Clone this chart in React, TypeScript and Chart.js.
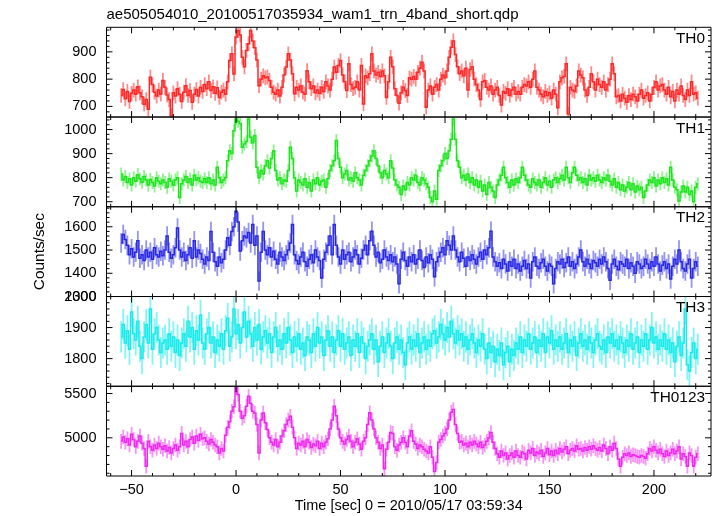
import React, { useEffect, useRef } from 'react';
import { Chart, registerables } from 'chart.js';

Chart.register(...registerables);

// ---- data (1-s bins starting at T_START seconds) ----
const T_START = -55;
const PANEL_NAMES = ['TH0', 'TH1', 'TH2', 'TH3', 'TH0123'];

const TH0 = [
  740, 762, 728, 755, 718, 748, 760, 745, 772, 750,
  735, 708, 725, 690, 807, 780, 752, 738, 760, 745,
  795, 770, 742, 725, 666, 750, 738, 765, 745, 718,
  752, 776, 740, 758, 715, 745, 762, 738, 770, 755,
  780, 765, 790, 758, 772, 748, 768, 733, 752, 760,
  745, 790, 868, 893, 819, 954, 978, 962, 880, 845,
  905, 930, 978, 940, 915, 870, 776, 800, 812, 805,
  808, 795, 770, 752, 745, 760, 738, 770, 815, 844,
  893, 870, 820, 746, 770, 760, 775, 752, 745, 831,
  790, 765, 775, 750, 760, 748, 770, 755, 790, 775,
  760, 800, 844, 825, 850, 868, 815, 790, 758, 856,
  780, 765, 770, 790, 760, 850, 709, 812, 805, 820,
  893, 830, 815, 825, 810, 830, 812, 733, 790, 880,
  845, 765, 740, 712, 750, 770, 758, 740, 805, 800,
  810, 800, 825, 840, 862, 830, 697, 760, 775, 745,
  770, 780, 760, 800, 815, 805, 830, 880, 917, 940,
  890, 845, 820, 830, 812, 840, 760, 835, 845, 800,
  780, 760, 725, 790, 795, 770, 760, 775, 745, 760,
  770, 740, 705, 755, 748, 765, 740, 760, 770, 745,
  755, 745, 770, 780, 775, 790, 770, 800, 830, 770,
  760, 745, 735, 755, 740, 750, 730, 760, 745, 695,
  790, 805, 810, 856, 672, 770, 760, 755, 775, 830,
  815, 805, 760, 740, 770, 820, 790, 760, 800, 780,
  770, 790, 760, 780, 800, 856, 820, 735, 740, 720,
  745, 730, 715, 740, 725, 745, 735, 720, 745, 760,
  730, 740, 750, 720, 745, 770, 790, 760, 775, 780,
  760, 745, 770, 735, 755, 720, 760, 745, 775, 740,
  725, 760, 740, 790, 745, 750, 730,
];

const TH1 = [
  815, 790, 805, 780, 795, 770, 800, 785, 812, 795,
  780, 805, 790, 770, 792, 780, 765, 800, 785, 775,
  790, 780, 760, 795, 785, 770, 790, 800, 718, 775,
  790, 805, 780, 795, 770, 810, 790, 800, 785, 780,
  795, 780, 800, 775, 790, 770, 843, 800, 780, 790,
  800, 870, 912, 900, 995, 1044, 1035, 1025, 926, 940,
  950, 1044, 968, 945, 975, 843, 800, 830, 815, 850,
  870, 840, 880, 912, 830, 790, 800, 775, 790, 785,
  830, 926, 880, 800, 745, 790, 780, 770, 795, 760,
  780, 745, 790, 775, 800, 770, 785, 790, 760, 795,
  830, 850, 870, 954, 880, 843, 800, 815, 830, 790,
  800, 785, 820, 800, 790, 770, 810, 830, 850, 870,
  890, 912, 880, 850, 820, 800, 830, 815, 800, 870,
  840, 790, 770, 760, 730, 765, 750, 780, 770, 800,
  790, 810, 780, 770, 800, 790, 775, 760, 718, 700,
  745, 710, 830, 850, 870, 900, 880, 912, 960, 1044,
  960, 870, 843, 800, 810, 790, 815, 780, 800, 770,
  790, 760, 785, 745, 770, 730, 780, 760, 745, 718,
  770, 790, 810, 843, 800, 780, 760, 790, 770, 795,
  780, 800, 843, 810, 790, 770, 760, 795, 780, 770,
  790, 760, 780, 800, 770, 785, 760, 790, 800, 780,
  795, 810, 790, 843, 800, 780, 820, 843, 810, 790,
  800, 780, 795, 770, 810, 790, 800, 785, 810, 790,
  780, 800, 790, 810, 785, 770, 795, 760, 780, 750,
  770, 745, 760, 780, 750, 775, 740, 765, 750, 760,
  718, 745, 770, 790, 780, 800, 765, 790, 775, 800,
  780, 795, 770, 843, 790, 760, 750, 703, 740, 765,
  740, 760, 730, 745, 700, 760, 775,
];

const TH2 = [
  1530, 1567, 1545, 1520, 1480, 1505, 1470, 1490, 1540, 1465,
  1480, 1455, 1500, 1470, 1490, 1460, 1510, 1480, 1470, 1495,
  1475, 1500, 1560, 1490, 1465, 1480, 1510, 1595, 1500, 1470,
  1490, 1455, 1480, 1510, 1465, 1540, 1470, 1500, 1485, 1460,
  1440, 1470, 1455, 1580, 1490, 1450, 1430, 1470, 1445, 1460,
  1500, 1553, 1520, 1580, 1600, 1667, 1620, 1496, 1540, 1560,
  1553, 1575, 1530, 1610, 1520, 1560, 1367, 1490, 1580, 1500,
  1480, 1510, 1470, 1495, 1460, 1440, 1490, 1470, 1455, 1480,
  1500, 1530, 1610, 1480, 1455, 1440, 1470, 1490, 1450, 1430,
  1460, 1480, 1445, 1500, 1470, 1455, 1380, 1460, 1490, 1520,
  1560, 1480, 1610, 1520, 1470, 1440, 1500, 1460, 1480, 1490,
  1450, 1470, 1500, 1480, 1440, 1465, 1500, 1520, 1480, 1540,
  1581, 1520, 1470, 1490, 1445, 1460, 1500, 1470, 1455, 1480,
  1450, 1470, 1440, 1355, 1460, 1490, 1455, 1430, 1470, 1450,
  1480, 1440, 1460, 1500, 1455, 1425, 1470, 1445, 1480, 1460,
  1385, 1450, 1470, 1490, 1510, 1480, 1540, 1520, 1500, 1560,
  1500, 1470, 1450, 1490, 1465, 1430, 1470, 1455, 1480, 1460,
  1440, 1470, 1490, 1460, 1500, 1480, 1510, 1581, 1470, 1450,
  1430, 1445, 1420, 1460, 1440, 1410, 1450, 1430, 1460, 1420,
  1440, 1410, 1430, 1455, 1420, 1440, 1380, 1450, 1470, 1430,
  1420, 1445, 1460, 1430, 1410, 1440, 1430, 1355, 1420, 1450,
  1440, 1460, 1425, 1445, 1470, 1430, 1450, 1420, 1440, 1470,
  1500, 1450, 1430, 1460, 1440, 1420, 1455, 1445, 1430, 1460,
  1440, 1470, 1450, 1420, 1370, 1440, 1460, 1430, 1415, 1450,
  1440, 1430, 1460, 1420, 1445, 1430, 1400, 1450, 1440, 1420,
  1430, 1460, 1440, 1420, 1450, 1430, 1470, 1440, 1410, 1435,
  1450, 1420, 1440, 1375, 1430, 1460, 1440, 1500, 1450, 1420,
  1410, 1440, 1460, 1380, 1420, 1450, 1430,
];

const TH3 = [
  1870, 1910, 1850, 1890, 1830, 1950, 1880, 1860, 1920, 1840,
  1800, 1870, 1910, 1850, 1960, 1830, 1880, 1900, 1860, 1820,
  1850, 1860, 1830, 1880, 1840, 1870, 1820, 1860, 1810, 1850,
  1880, 1840, 1920, 1870, 1900, 1830, 1890, 1860, 1940, 1850,
  1830, 1880, 1900, 1850, 1870, 1820, 1860, 1840, 1880, 1830,
  1890, 1930, 1840, 1870, 1960, 1880, 1910, 1850, 1900, 1950,
  1870, 1920, 1880, 1840, 1900, 1860, 1910, 1830, 1870, 1890,
  1850, 1880, 1820, 1870, 1900, 1840, 1860, 1830, 1880, 1850,
  1900, 1860, 1820, 1870, 1840, 1880, 1830, 1850, 1810, 1870,
  1860, 1820, 1880, 1840, 1900, 1850, 1870, 1810, 1860, 1890,
  1840, 1870, 1820, 1860, 1890, 1840, 1880, 1830, 1850, 1870,
  1810, 1860, 1840, 1880, 1820, 1870, 1850, 1800, 1840, 1860,
  1880, 1830, 1860, 1790, 1840, 1870, 1820, 1850, 1880, 1840,
  1800, 1850, 1870, 1830, 1860, 1820, 1780, 1850, 1870, 1830,
  1860, 1840, 1880, 1820, 1850, 1870, 1830, 1860, 1840, 1880,
  1890, 1850, 1870, 1910, 1880, 1860, 1900, 1870, 1920, 1880,
  1850, 1890, 1860, 1880, 1840, 1870, 1830, 1860, 1880, 1850,
  1820, 1860, 1840, 1880, 1830, 1800, 1850, 1820, 1840, 1790,
  1830, 1810, 1850, 1780, 1820, 1840, 1790, 1830, 1810, 1850,
  1830, 1870, 1820, 1860, 1840, 1880, 1830, 1850, 1870, 1820,
  1860, 1840, 1880, 1820, 1870, 1850, 1890, 1830, 1860, 1840,
  1870, 1830, 1850, 1880, 1820, 1860, 1840, 1870, 1810, 1850,
  1880, 1840, 1860, 1830, 1870, 1850, 1820, 1860, 1880, 1840,
  1830, 1860, 1820, 1870, 1850, 1880, 1840, 1860, 1830, 1870,
  1850, 1820, 1860, 1840, 1880, 1830, 1850, 1870, 1820, 1860,
  1840, 1880, 1830, 1860, 1900, 1850, 1870, 1830, 1860, 1840,
  1880, 1830, 1860, 1820, 1850, 1790, 1840, 1870, 1810, 1850,
  1960, 1780, 1760, 1820, 1850, 1800, 1830,
];

const TH0123 = [
  4960, 5010, 4950, 4990, 4920, 5040, 4980, 4900, 4960, 5020,
  4940, 4880, 4680, 4960, 4900, 4860, 4920, 4880, 4940, 4900,
  4870, 4910, 4850, 4890, 4830, 4880, 4920, 4860, 4900, 5050,
  4920, 4960, 4900, 4980, 5010, 4940, 5020, 4970, 5040, 4990,
  5000, 4960, 4930, 4980, 4950, 4920, 4900, 4830, 4880, 4850,
  5030, 5120, 5180, 5300, 5350, 5564, 5490, 5300, 5220, 5250,
  5357, 5470, 5390, 5300, 5280, 5150, 4830, 5200, 5280, 5170,
  5094, 5000, 4950, 4920, 4980, 4900, 4950, 5020, 5080, 5150,
  5200, 5244, 5120, 5000, 4880, 4940, 4920, 4960, 4900, 4980,
  4950, 4890, 4930, 4910, 4960, 4880, 4940, 4900, 4950, 4990,
  5100, 5200, 5357, 5250, 5100, 5000, 4960, 4930, 4980, 5020,
  4960, 4900, 4950, 4990, 4930, 4870, 4960, 5000, 5150, 5282,
  5200, 5100, 5000, 4950, 4880, 4920, 4650, 4870, 4950, 5060,
  5050, 4900, 4860, 4920, 4950, 5000, 4950, 4900, 5020, 5080,
  4960, 4930, 4880, 4920, 4900, 4870, 4850, 4830, 4900, 4780,
  4620, 4720, 4950, 4980, 5020, 5050, 5100, 5200, 5290, 5320,
  5150, 5050, 4950, 4960, 4920, 4940, 4900, 4950, 4920, 4960,
  4930, 4900, 4950, 4890, 4920, 4960, 5000, 5060, 4950, 4880,
  4820, 4780, 4850, 4800, 4830, 4760, 4800, 4830, 4780, 4850,
  4800, 4780, 4840, 4820, 4760, 4860, 4830, 4880, 4800, 4840,
  4820, 4860, 4790, 4830, 4880, 4810, 4850, 4800, 4860, 4820,
  4880, 4840, 4870, 4900, 4820, 4860, 4880, 4850, 4910, 4870,
  4880, 4850, 4890, 4860, 4900, 4870, 4910, 4880, 4860, 4890,
  4850, 4920, 4880, 4820, 4900, 4860, 4940, 4880, 4760, 4680,
  4780, 4820, 4800, 4830, 4790, 4810, 4800, 4790, 4780, 4800,
  4790, 4770, 4820, 4880, 4850, 4900, 4860, 4830, 4870, 4820,
  4790, 4850, 4800, 4830, 4870, 4820, 4850, 4900, 4760, 4820,
  4790, 4680, 4830, 4800, 4680, 4780, 4820,
];

const SERIES = [TH0, TH1, TH2, TH3, TH0123];
const ERRORS = [27, 27, 42, 50, 82];
const Y_MIN = [661, 679, 1300, 1711, 4569];
const Y_MAX = [990, 1052, 1686, 2000, 5582];
const Y_TICKS = [
  [700, 800, 900],
  [700, 800, 900, 1000],
  [1300, 1400, 1500, 1600],
  [1800, 1900, 2000],
  [5000, 5500],
];
const Y_MAJOR = [100, 100, 100, 100, 500];
const Y_MINOR = [20, 20, 20, 20, 100];
const X_MIN = -62;
const X_MAX = 227.3;
const X_TICKS = [-50, 0, 50, 100, 150, 200];
const X_MAJOR = 50;
const X_MINOR = 10;

const TITLE = 'ae505054010_20100517035934_wam1_trn_4band_short.qdp';
const X_TITLE = 'Time [sec] 0 = 2010/05/17 03:59:34';
const Y_TITLE = 'Counts/sec';

const COLORS = ['rgb(255,40,40)', 'rgb(30,228,30)', 'rgb(40,40,228)', 'rgb(25,234,234)', 'rgb(238,40,238)'];
const ERR_COLORS = [
  'rgba(255,60,60,0.6)',
  'rgba(50,232,50,0.55)',
  'rgba(60,60,232,0.55)',
  'rgba(45,238,238,0.6)',
  'rgba(240,60,240,0.55)',
];

const FONT = "'Liberation Sans', Arial, Helvetica, sans-serif";

const errorBarPlugin = {
  id: 'qdpErrorBars',
  beforeDatasetsDraw(chart: any) {
    const { ctx, chartArea } = chart;
    chart.data.datasets.forEach((ds: any, i: number) => {
      const meta = chart.getDatasetMeta(i);
      const ys = chart.scales[meta.yAxisID];
      const xs = chart.scales[meta.xAxisID];
      ctx.save();
      ctx.beginPath();
      ctx.rect(chartArea.left, ys.top, chartArea.right - chartArea.left, ys.bottom - ys.top);
      ctx.clip();
      ctx.strokeStyle = ERR_COLORS[i];
      ctx.lineWidth = 1.8;
      ctx.beginPath();
      ds.data.forEach((p: any) => {
        const x = xs.getPixelForValue(p.x);
        ctx.moveTo(x, ys.getPixelForValue(p.y + ERRORS[i]));
        ctx.lineTo(x, ys.getPixelForValue(p.y - ERRORS[i]));
      });
      ctx.stroke();
      ctx.restore();
    });
  },
};

const framePlugin = {
  id: 'qdpFrames',
  afterDatasetsDraw(chart: any) {
    const { ctx, chartArea } = chart;
    const xs = chart.scales.x;
    const left = chartArea.left;
    const right = chartArea.right;
    ctx.save();
    ctx.strokeStyle = '#000';
    ctx.lineWidth = 1;
    PANEL_NAMES.forEach((name, i) => {
      const ys = chart.scales['y' + i];
      const top = ys.top;
      const bottom = ys.bottom;
      ctx.beginPath();
      ctx.rect(left, top, right - left, bottom - top);
      const yMinor = Y_MINOR[i];
      for (let v = Math.ceil(ys.min / yMinor) * yMinor; v <= ys.max + 1e-6; v += yMinor) {
        const y = ys.getPixelForValue(v);
        const r = v / Y_MAJOR[i];
        const major = Math.abs(r - Math.round(r)) < 1e-6;
        const len = major ? 6 : 3;
        ctx.moveTo(left, y);
        ctx.lineTo(left + len, y);
        ctx.moveTo(right, y);
        ctx.lineTo(right - len, y);
      }
      for (let v = Math.ceil(xs.min / X_MINOR) * X_MINOR; v <= xs.max + 1e-6; v += X_MINOR) {
        const x = xs.getPixelForValue(v);
        const r = v / X_MAJOR;
        const major = Math.abs(r - Math.round(r)) < 1e-6;
        const len = major ? 6 : 3;
        ctx.moveTo(x, top);
        ctx.lineTo(x, top + len);
        ctx.moveTo(x, bottom);
        ctx.lineTo(x, bottom - len);
      }
      ctx.stroke();
      ctx.fillStyle = '#000';
      ctx.font = `15.4px ${FONT}`;
      ctx.textAlign = 'right';
      ctx.textBaseline = 'alphabetic';
      ctx.fillText(name, right - 6, top + 15.6);
    });
    ctx.restore();
  },
};

export default function App() {
  const canvasRef = useRef<HTMLCanvasElement | null>(null);

  useEffect(() => {
    if (!canvasRef.current) return;
    const scales: any = {
      x: {
        type: 'linear',
        position: 'bottom',
        min: X_MIN,
        max: X_MAX,
        grid: { display: false, drawTicks: false },
        border: { display: false },
        afterBuildTicks: (s: any) => {
          s.ticks = X_TICKS.map((v) => ({ value: v }));
        },
        ticks: {
          autoSkip: false,
          maxRotation: 0,
          color: '#000',
          padding: 5,
          font: { family: FONT, size: 14.5 },
          callback: (v: any) => String(v).replace('-', '\u2212'),
        },
        title: {
          display: true,
          text: X_TITLE,
          color: '#000',
          font: { family: FONT, size: 14.5 },
          padding: { top: 0, bottom: 1.5 },
        },
        afterFit: (s: any) => {
          s.height = 40;
        },
      },
    };
    // stacked axes are placed bottom-up in definition order, so define the lowest panel first
    for (let i = PANEL_NAMES.length - 1; i >= 0; i--) {
      scales['y' + i] = {
        type: 'linear',
        position: 'left',
        stack: 'panels',
        stackWeight: 1,
        min: Y_MIN[i],
        max: Y_MAX[i],
        grid: { display: false, drawTicks: false },
        border: { display: false },
        afterBuildTicks: (s: any) => {
          s.ticks = Y_TICKS[i].map((v) => ({ value: v }));
        },
        ticks: {
          autoSkip: false,
          color: '#000',
          padding: 10,
          font: { family: FONT, size: 14.5 },
          callback: (v: any) => String(v),
        },
        title: {
          display: i === 2,
          text: Y_TITLE,
          color: '#000',
          font: { family: FONT, size: 15.4 },
          padding: { top: 24, bottom: 0 },
        },
        afterFit: (s: any) => {
          s.width = 100;
        },
      };
    }

    const chart = new Chart(canvasRef.current, {
      type: 'line',
      data: {
        datasets: SERIES.map((vals, i) => ({
          label: PANEL_NAMES[i],
          data: vals.map((v, j) => ({ x: T_START + j, y: v })),
          xAxisID: 'x',
          yAxisID: 'y' + i,
          borderColor: COLORS[i],
          backgroundColor: COLORS[i],
          borderWidth: 1.5,
          pointRadius: 0,
          stepped: 'middle',
          fill: false,
          clip: 0,
        })),
      },
      options: {
        animation: false,
        responsive: false,
        devicePixelRatio: 1,
        layout: { padding: { left: 6.5, right: 6, top: 0, bottom: 0 } },
        scales,
        plugins: {
          legend: { display: false },
          tooltip: { enabled: false },
          title: {
            display: true,
            text: TITLE,
            align: 'start',
            fullSize: false,
            color: '#000',
            font: { family: FONT, size: 15, weight: 'normal' },
            padding: { top: 6, bottom: 3.3 },
          },
        },
      },
      plugins: [errorBarPlugin, framePlugin],
    } as any);
    return () => chart.destroy();
  }, []);

  return (
    <div style={{ position: 'fixed', left: 0, top: 0, width: 717, height: 516, background: '#fff' }}>
      <canvas ref={canvasRef} width={717} height={516} />
    </div>
  );
}
